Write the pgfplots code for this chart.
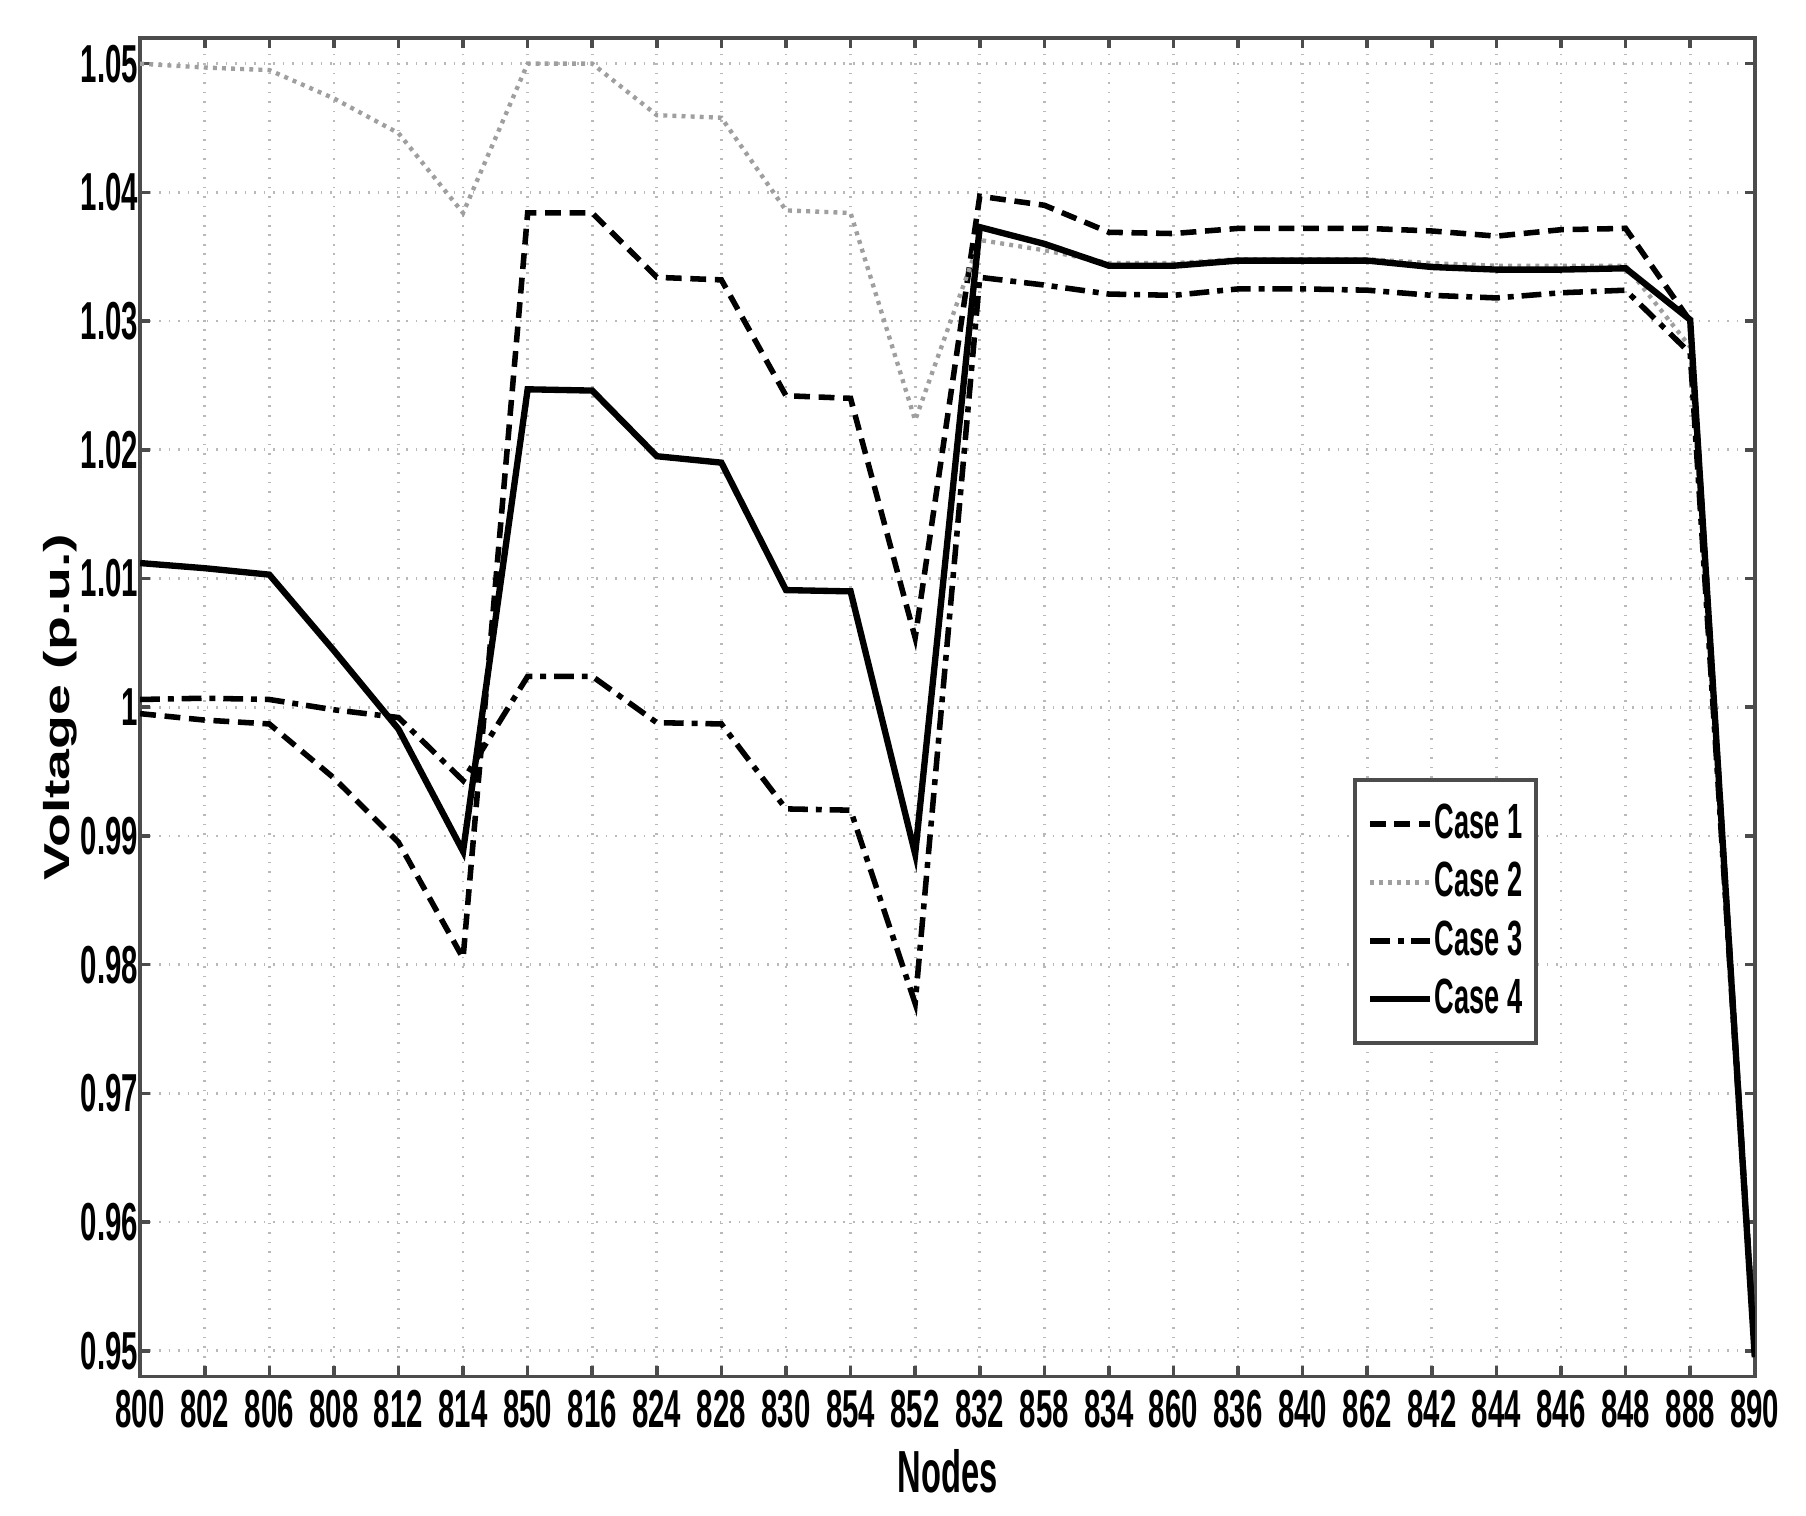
\documentclass[border={0.27cm 0.08cm 0.12cm 0.28cm}]{standalone}
\usepackage{fontspec}
\setmainfont{Liberation Sans}[FakeStretch=0.55]
\newfontfamily\widefont{Liberation Sans}
\usepackage{graphicx}
\usepackage{pgfplots}
\pgfplotsset{compat=1.18}

% node order along the feeder
\pgfplotstableread{
x  c1      c2      c3      c4
0  0.9995  1.0500  1.0006  1.0112
1  0.9990  1.0497  1.0007  1.0108
2  0.9987  1.0495  1.0006  1.0103
3  0.9945  1.0473  0.9998  1.0044
4  0.9895  1.0446  0.9992  0.9983
5  0.9805  1.0384  0.9943  0.9888
6  1.0384  1.0500  1.0024  1.0247
7  1.0384  1.0500  1.0024  1.0246
8  1.0334  1.0460  0.9988  1.0195
9  1.0332  1.0458  0.9987  1.0190
10 1.0242  1.0386  0.9921  1.0091
11 1.0240  1.0384  0.9920  1.0090
12 1.0054  1.0223  0.9770  0.9886
13 1.0397  1.0363  1.0334  1.0373
14 1.0390  1.0355  1.0328  1.0360
15 1.0369  1.0345  1.0321  1.0343
16 1.0368  1.0345  1.0320  1.0343
17 1.0372  1.0348  1.0325  1.0347
18 1.0372  1.0348  1.0325  1.0347
19 1.0372  1.0348  1.0324  1.0347
20 1.0370  1.0345  1.0320  1.0342
21 1.0366  1.0343  1.0318  1.0340
22 1.0371  1.0343  1.0322  1.0340
23 1.0372  1.0343  1.0324  1.0341
24 1.0300  1.0280  1.0275  1.0301
25 0.9500  0.9500  0.9500  0.9495
}\voltages

\begin{document}
\begin{tikzpicture}
\begin{axis}[
  width=14.33cm, height=11.88cm, scale only axis,
  xmin=0, xmax=25, ymin=0.948, ymax=1.052,
  xtick={0,...,25},
  xticklabels={800,802,806,808,812,814,850,816,824,828,830,854,852,832,858,834,860,836,840,862,842,844,846,848,888,890},
  ytick={0.95,0.96,0.97,0.98,0.99,1,1.01,1.02,1.03,1.04,1.05},
  /pgf/number format/assume math mode=true,
  tick label style={font=\fontsize{13.5}{14}\selectfont\bfseries},
  yticklabel style={xshift=3pt},
  grid=major,
  major grid style={gray!55, dotted, line width=0.7pt},
  tick align=inside, tick pos=both,
  major tick length=0.09cm,
  every tick/.style={gray!60!black, line width=0.9pt},
  axis line style={gray!60!black, line width=1pt},
  xlabel={\fontsize{15}{17}\selectfont\bfseries Nodes},
  ylabel={\scalebox{1}[0.65]{\widefont\fontsize{14}{16}\selectfont\bfseries Voltage (p.u.)}},
  xlabel style={yshift=1.5pt},
  ylabel style={yshift=-6pt},
  legend style={at={(0.866,0.447)}, anchor=north east,
    draw=gray!60!black, line width=1pt,
    font=\fontsize{12.5}{13}\selectfont\bfseries,
    inner xsep=3pt, inner ysep=4pt, row sep=0.5pt,
    nodes={inner xsep=0.5pt},
    legend cell align=left},
  legend image code/.code={\draw[#1] (0cm,0cm) -- (0.53cm,0cm);},
]
\addplot[black, line width=1.4pt, dash pattern=on 4pt off 2.2pt] table[x=x, y=c1] {\voltages};
\addplot[gray!75, line width=1.1pt, dash pattern=on 1pt off 1.3pt] table[x=x, y=c2] {\voltages};
\addplot[black, line width=1.4pt, dash pattern=on 5pt off 2pt on 1.5pt off 2pt] table[x=x, y=c3] {\voltages};
\addplot[black, line width=1.6pt] table[x=x, y=c4] {\voltages};
\legend{Case 1, Case 2, Case 3, Case 4}
\end{axis}
\end{tikzpicture}
\end{document}
